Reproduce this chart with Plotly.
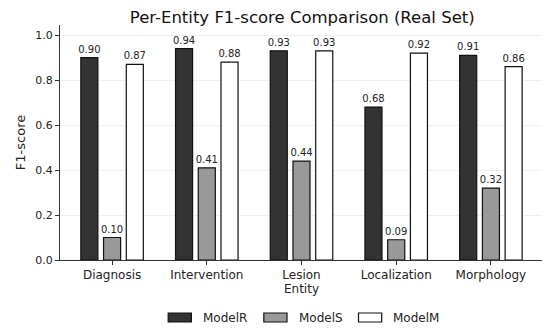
import plotly.graph_objects as go

categories = ["Diagnosis", "Intervention", "Lesion", "Localization", "Morphology"]
model_r = [0.90, 0.94, 0.93, 0.68, 0.91]
model_s = [0.10, 0.41, 0.44, 0.09, 0.32]
model_m = [0.87, 0.88, 0.93, 0.92, 0.86]
series_names = ["ModelR", "ModelS", "ModelM"]
colors = ["#333333", "#999999", "#ffffff"]

# target plot area on screen in pixels; page body has ~8px margin
OFF = 8
L, R, T, B = 43, 543, 25, 260
def px_x(px):
    return (px - L) / (R - L)
def px_y(py):
    return (B - py) / (B - T)

fig = go.Figure()
for name, vals, col in zip(series_names, [model_r, model_s, model_m], colors):
    fig.add_trace(go.Bar(
        x=categories, y=vals, name=name,
        marker=dict(color=col, line=dict(color="#111111", width=1.2)),
        text=[f"{v:.2f}" for v in vals], textposition="outside",
        constraintext="none",
        textfont=dict(size=10, color="#222222", family="DejaVu Sans"),
        cliponaxis=False, showlegend=False,
    ))

# legend drawn manually (wide matplotlib-style swatches)
shapes = []
annotations = []
legend_pos = [(155, 189), (254, 288), (352, 386)]
for (sx, tx), name, col in zip(legend_pos, series_names, colors):
    shapes.append(dict(type="rect", xref="paper", yref="paper",
                       x0=px_x(sx), x1=px_x(sx + 24), y0=px_y(322), y1=px_y(313),
                       fillcolor=col, line=dict(color="#111111", width=1.2)))
    annotations.append(dict(xref="paper", yref="paper", x=px_x(tx), y=px_y(317.5),
                            xanchor="left", yanchor="middle", text=name, showarrow=False,
                            font=dict(size=12, color="#222222")))

fig.update_layout(
    width=550, height=333,
    margin=dict(l=L - OFF, r=550 - R + OFF, t=T - OFF, b=333 - B + OFF),
    paper_bgcolor="white", plot_bgcolor="white",
    font=dict(family="DejaVu Sans", color="#222222"),
    title=dict(text="Per-Entity F1-score Comparison (Real Set)", x=0.535, xanchor="center",
               y=1 - 9.5 / 333, yanchor="middle",
               font=dict(size=16.5, color="#111111")),
    barmode="group", bargap=0.28, bargroupgap=0.25,
    showlegend=False,
    shapes=shapes, annotations=annotations,
)
fig.update_xaxes(
    range=[-0.55, 4.55], showline=True, linecolor="#333333", linewidth=1,
    ticks="outside", ticklen=4, tickcolor="#333333", tickfont=dict(size=12),
    title=dict(text="Entity", font=dict(size=12), standoff=2), showgrid=False,
)
fig.update_yaxes(
    range=[0, 1.045], showline=True, linecolor="#333333", linewidth=1,
    ticks="outside", ticklen=4, tickcolor="#333333", tickfont=dict(size=11),
    tickvals=[0, 0.2, 0.4, 0.6, 0.8, 1.0], ticktext=["0.0", "0.2", "0.4", "0.6", "0.8", "1.0"],
    title=dict(text="F1-score", font=dict(size=13), standoff=6),
    showgrid=True, gridcolor="#efefef", gridwidth=1, zeroline=False,
)

fig.write_html("out.html")
